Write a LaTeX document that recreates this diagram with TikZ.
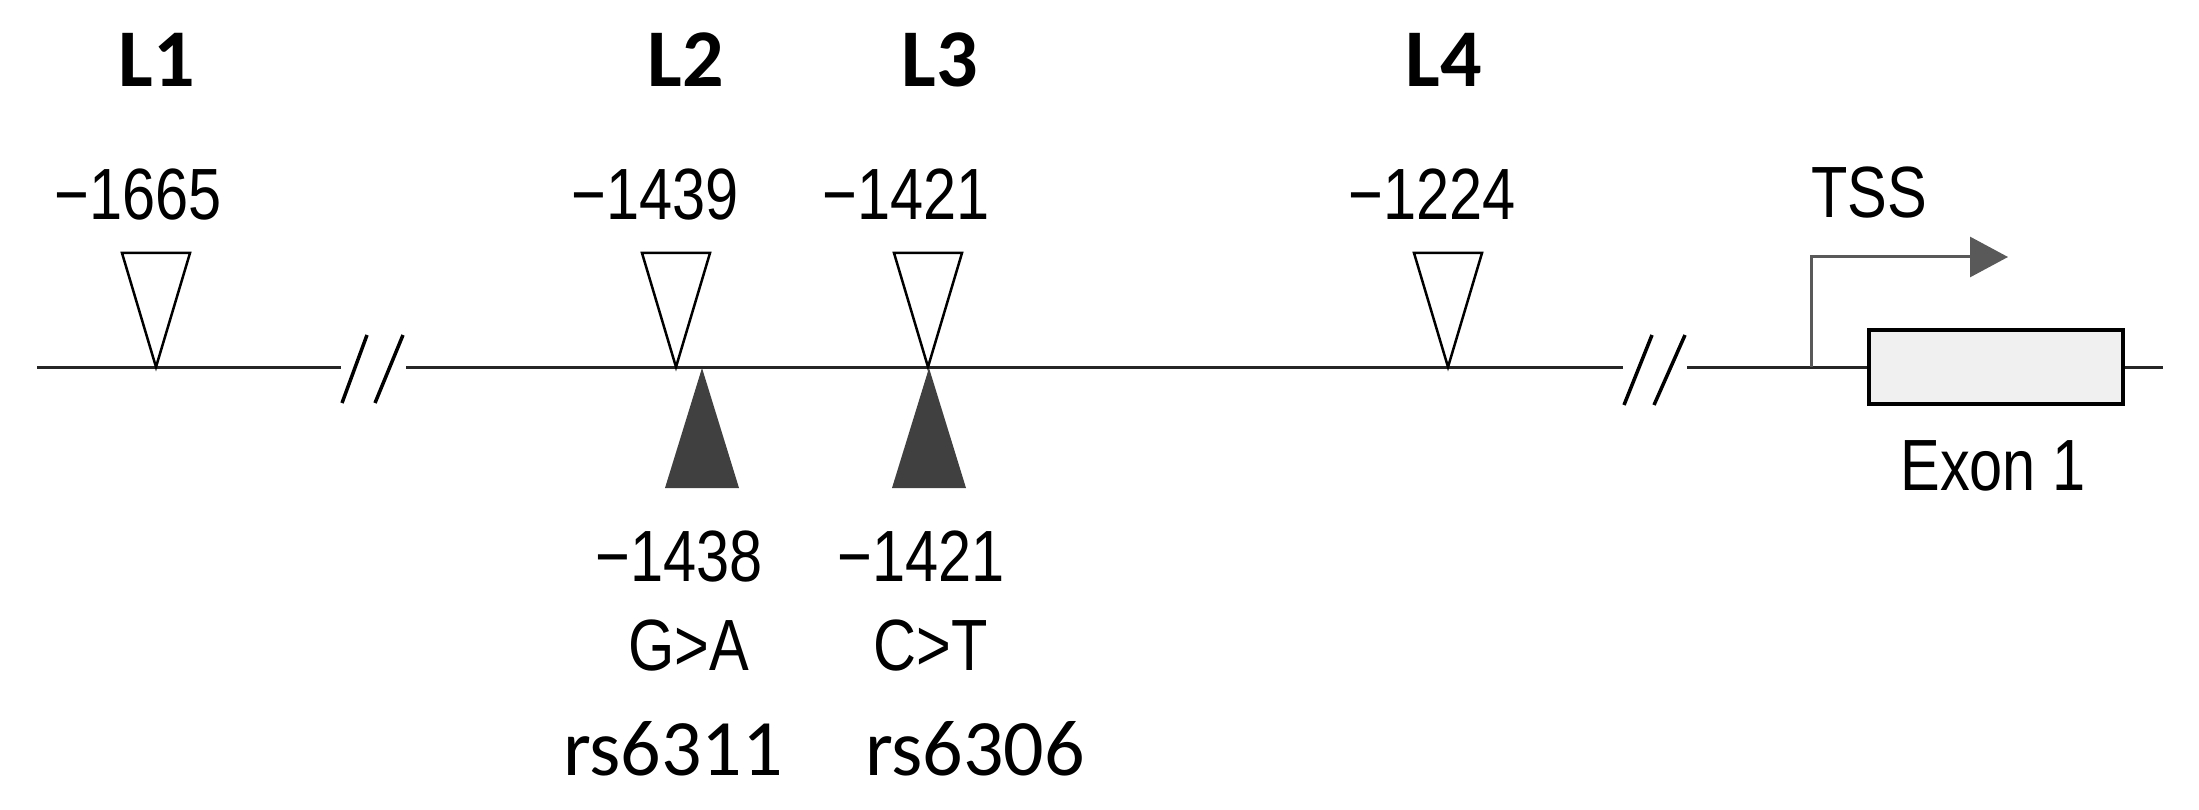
\documentclass[tikz,border=0pt]{standalone}
\usepackage{fontspec}
\newfontfamily\narsf[FakeStretch=0.82]{Liberation Sans}
\newfontfamily\carl{Carlito}
\usetikzlibrary{arrows.meta}
\begin{document}
\begin{tikzpicture}[x=1pt,y=-1pt,
  lab/.style={font=\carl\bfseries\fontsize{82}{90}\selectfont, anchor=base, inner sep=0},
  num/.style={font=\narsf\fontsize{72.6}{80}\selectfont, anchor=base, inner sep=0},
  rsl/.style={font=\carl\fontsize{80}{90}\selectfont, anchor=base, inner sep=0},
  opentri/.style={draw=black, line width=2.5, fill=white, line join=miter},
  filltri/.style={fill=black!75, draw=none},
  dna/.style={draw=black!85, line width=3},
  brk/.style={draw=black, line width=3.5},
  exonbox/.style={draw=black, line width=3.5, fill=black!6, minimum width=254, minimum height=74, inner sep=0},
  tssarrow/.style={draw=black!65, line width=3, -{Triangle[length=38pt,width=40pt]}}]
\useasboundingbox (0,0) rectangle (2199,810);
% backbone
\coordinate (a0) at (37,367);
\coordinate (b1) at (341,367);
\coordinate (b2) at (406,367);
\coordinate (b3) at (1623,367);
\coordinate (b4) at (1687,367);
\coordinate (tss) at (1811,367);
\coordinate (tsshead) at (2008,257);
\node[exonbox] (exon) at (1996,367) {};
\coordinate (end) at (2163,367);
\draw[dna] (a0) -- (b1);
\draw[dna] (b2) -- (b3);
\draw[dna] (b4) -- (exon.west);
\draw[dna] (exon.east) -- (end);
% breaks
\draw[brk] (342,403) -- (367,335);
\draw[brk] (375,403) -- (403,335);
\draw[brk] (1624,405) -- (1652,335);
\draw[brk] (1654,405) -- (1685,335);
% TSS arrow
\draw[tssarrow] (tss) |- (tsshead);
% sites
\coordinate (s1) at (156,367);
\coordinate (s2) at (676,367);
\coordinate (s3) at (928,367);
\coordinate (s4) at (1448,367);
\coordinate (f2) at (702,368);
\coordinate (f3) at (929,368);
\foreach \s in {s1,s2,s3,s4}
  \draw[opentri] (\s) -- ++(-34,-114) -- ++(68,0) -- cycle;
\foreach \f in {f2,f3}
  \fill[filltri] (\f) -- ++(-37,120) -- ++(74,0) -- cycle;
% labels
\node[lab] (L1) at (157,87) {L1};
\node[lab] (L2) at (686,87) {L2};
\node[lab] (L3) at (940,87) {L3};
\node[lab] (L4) at (1444,87) {L4};
\node[num] (p1665) at (138,220) {−1665};
\node[num] (p1439) at (655,220) {−1439};
\node[num] (p1421a) at (906,220) {−1421};
\node[num] (p1224) at (1432,220) {−1224};
\node[num] (tsst) at (1869,218) {TSS};
\node[num] (exl) at (1993,490) {Exon 1};
\node[num] (p1438) at (679,581) {−1438};
\node[num] (p1421b) at (921,581) {−1421};
\node[num] (ga) at (689,670) {G>A};
\node[num] (ct) at (931,670) {C>T};
\node[rsl] (rs1) at (673,775) {rs6311};
\node[rsl] (rs2) at (975,775) {rs6306};
\end{tikzpicture}
\end{document}
